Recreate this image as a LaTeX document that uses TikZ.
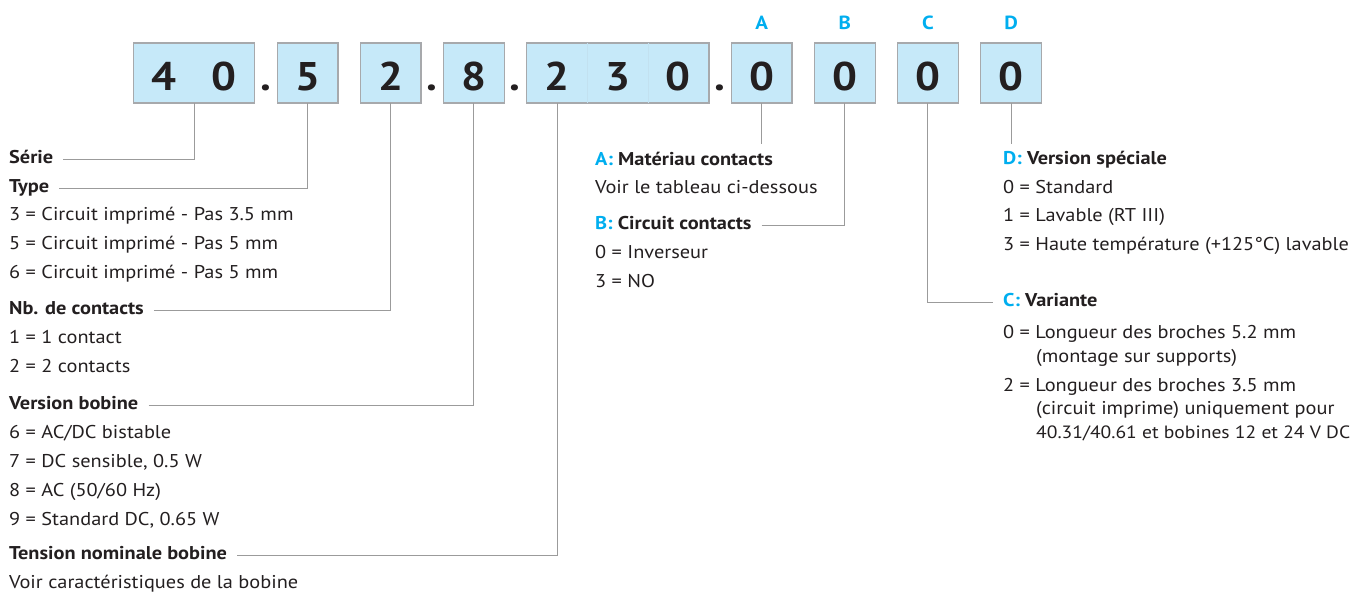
\documentclass[tikz,border=0pt]{standalone}
\usepackage{fontspec}
\setmainfont{PT Sans}[FakeStretch=1.1]
\usetikzlibrary{positioning,calc}
\definecolor{boxblue}{RGB}{198,233,249}
\definecolor{boxgray}{RGB}{167,169,172}
\definecolor{leadgray}{RGB}{155,155,155}
\definecolor{codecyan}{RGB}{0,174,239}
\definecolor{txt}{RGB}{35,31,32}

\begin{document}
\begin{tikzpicture}[x=1pt,y=-1pt,
	cell/.style={draw=boxgray, fill=boxblue, line width=1.3pt, outer sep=0pt,
		minimum width=60.75pt, minimum height=60pt, inner sep=0pt,
		text height=34pt, text depth=0pt, text=txt,
		font=\fontsize{40}{40}\selectfont\bfseries},
	sepdot/.style={inner sep=0pt, text height=34pt, text depth=0pt, text=txt,
		font=\fontsize{40}{40}\selectfont\bfseries},
	tag/.style={text=codecyan, font=\fontsize{19}{19}\selectfont\bfseries},
	entry/.style={anchor=west, inner xsep=0pt, text height=12pt, text depth=4pt,
		text=txt, font=\fontsize{18.5}{20}\selectfont},
	heading/.style={entry, font=\fontsize{18.5}{20}\selectfont\bfseries},
	leader/.style={draw=leadgray, line width=0.9pt}]

		\useasboundingbox (0,0) rectangle (1357,594);

		% Code boxes
		\node[cell, minimum width=121.5pt] (b40) at (194,73)
			{\makebox[60.75pt]{4}\makebox[60.75pt]{0}};
		\node[cell, right=22.4pt of b40] (b5) {5};
		\node[cell, right=22.4pt of b5] (b2) {2};
		\node[cell, right=22.4pt of b2] (b8) {8};
		\node[cell, minimum width=182.25pt, right=22.4pt of b8] (b230)
			{\makebox[60.75pt]{2}\makebox[60.75pt]{3}\makebox[60.75pt]{0}};
		\node[cell, right=22.4pt of b230] (bA) {0};
		\node[cell, right=22.4pt of bA] (bB) {0};
		\node[cell, right=22.4pt of bB] (bC) {0};
		\node[cell, right=22.4pt of bC] (bD) {0};

		% faint cell borders inside 230
		\draw[boxblue!88!boxgray, line width=0.5pt]
			([xshift=60.75pt]b230.north west) -- ([xshift=60.75pt]b230.south west)
			([xshift=121.5pt]b230.north west) -- ([xshift=121.5pt]b230.south west);

		% Dots
		\node[sepdot] (d1) at ($(b40.east)!.5!(b5.west)$) {.};
		\node[sepdot] (d2) at ($(b2.east)!.5!(b8.west)$) {.};
		\node[sepdot] (d3) at ($(b8.east)!.5!(b230.west)$) {.};
		\node[sepdot] (d4) at ($(b230.east)!.5!(bA.west)$) {.};

		% Letters
		\node[tag, above=10pt of bA] (tA) {A};
		\node[tag, above=10pt of bB] (tB) {B};
		\node[tag, above=10pt of bC] (tC) {C};
		\node[tag, above=10pt of bD] (tD) {D};

		% Left column
		\node[heading] (serie) at (9,159.5) {Série};
		\node[heading] (type) at (9,188.5) {Type};
		\node[entry] (type3) at (9,216.5) {3 = Circuit imprimé - Pas 3.5 mm};
		\node[entry] (type5) at (9,245.5) {5 = Circuit imprimé - Pas 5 mm};
		\node[entry] (type6) at (9,274.5) {6 = Circuit imprimé - Pas 5 mm};
		\node[heading] (nbc) at (9,310.5) {Nb. de contacts};
		\node[entry] (nbc1) at (9,339.5) {1 = 1 contact};
		\node[entry] (nbc2) at (9,368.5) {2 = 2 contacts};
		\node[heading] (vbob) at (9,405.5) {Version bobine};
		\node[entry] (vbob6) at (9,434.5) {6 = AC/DC bistable};
		\node[entry] (vbob7) at (9,463.5) {7 = DC sensible, 0.5 W};
		\node[entry] (vbob8) at (9,492.5) {8 = AC (50/60 Hz)};
		\node[entry] (vbob9) at (9,521.5) {9 = Standard DC, 0.65 W};
		\node[heading] (tens) at (9,555.5) {Tension nominale bobine};
		\node[entry] (tensv) at (9,584.5) {Voir caractéristiques de la bobine};

		% Middle column
		\node[heading] (amat) at (595,161) {\textcolor{codecyan}{A:} Matériau contacts};
		\node[entry] (avoir) at (595,189.5) {Voir le tableau ci-dessous};
		\node[heading] (bcirc) at (595,225) {\textcolor{codecyan}{B:} Circuit contacts};
		\node[entry] (bcirc0) at (595,254) {0 = Inverseur};
		\node[entry] (bcirc3) at (595,283) {3 = NO};

		% Right column
		\node[heading] (dver) at (1003,160.5) {\textcolor{codecyan}{D:} Version spéciale};
		\node[entry] (dver0) at (1003,189) {0 = Standard};
		\node[entry] (dver1) at (1003,217.5) {1 = Lavable (RT III)};
		\node[entry] (dver3) at (1003,246.5) {3 = Haute température (+125°C) lavable};
		\node[heading] (cvar) at (1003,302) {\textcolor{codecyan}{C:} Variante};
		\node[entry] (cvar0) at (1003,334) {0 = Longueur des broches 5.2 mm};
		\node[entry] (cvar0b) at (1036,358) {(montage sur supports)};
		\node[entry] (cvar2) at (1003,387.5) {2 = Longueur des broches 3.5 mm};
		\node[entry] (cvar2b) at (1036,410.5) {(circuit imprime) uniquement pour};
		\node[entry, font=\fontsize{17.8}{20}\selectfont] (cvar2c) at (1036,434)
			{40.31/40.61 et bobines 12 et 24 V DC};

		% Leader lines
		\coordinate (cell2) at ([xshift=30.4pt]b230.south west);
		\draw[leader] ([xshift=10pt]serie.east) -| (b40.south);
		\draw[leader] ([xshift=10pt]type.east) -| (b5.south);
		\draw[leader] ([xshift=10pt]nbc.east) -| (b2.south);
		\draw[leader] ([xshift=10pt]vbob.east) -| (b8.south);
		\draw[leader] ([xshift=10pt]tens.east) -| (cell2);
		\draw[leader] (bA.south) -- ([yshift=5pt]bA.south |- amat.north);
		\draw[leader] ([xshift=10pt]bcirc.east) -| (bB.south);
		\draw[leader] (bC.south) |- ([xshift=-10pt]cvar.west);
		\draw[leader] (bD.south) -- ([yshift=5pt]bD.south |- dver.north);
	\end{tikzpicture}
\end{document}
